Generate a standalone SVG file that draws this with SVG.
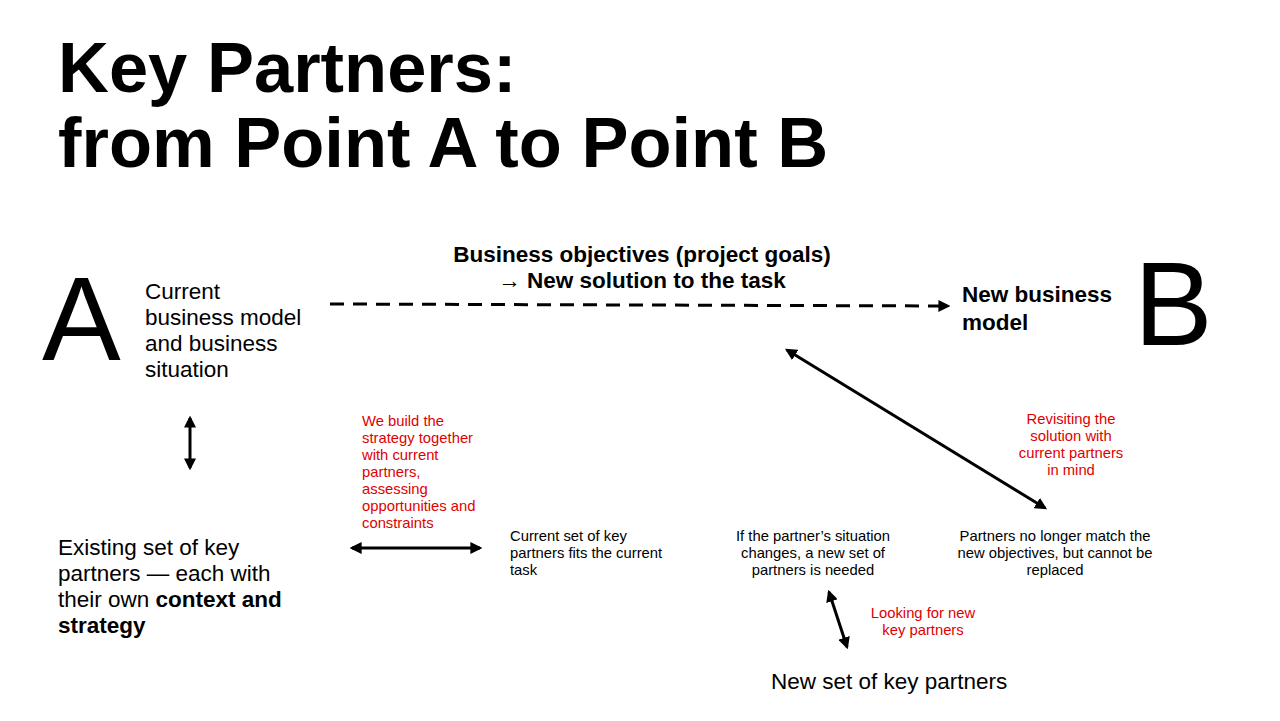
<svg xmlns="http://www.w3.org/2000/svg" width="1280" height="721" viewBox="0 0 1280 721">
<defs>
<marker id="ah" viewBox="0 0 10 10" refX="8" refY="5" markerWidth="4" markerHeight="4" orient="auto-start-reverse"><path d="M0,0 L10,5 L0,10 z" fill="#000"/></marker>
<style>
text{font-family:"Liberation Sans",Arial,sans-serif;fill:#000}
.t{font-size:70.5px;font-weight:bold}
.big{font-size:118px}
.m{font-size:22.5px}
.s{font-size:14.8px}
.r{font-size:14.8px;fill:#e00000}
.b{font-weight:bold}
.ln{stroke:#000;stroke-width:3;fill:none}
</style>
</defs>
<rect width="1280" height="721" fill="#fff"/>
<g id="title"><text class="t" x="58" y="92">Key Partners:</text><text class="t" x="58" y="167">from Point A to Point B</text></g>
<g id="nodeA"><text class="big" x="42" y="360">A</text>
<text class="m"><tspan x="145" y="299">Current</tspan><tspan x="145" y="325">business model</tspan><tspan x="145" y="351">and business</tspan><tspan x="145" y="377">situation</tspan></text></g>
<g id="goal"><text class="m b" text-anchor="middle"><tspan x="642" y="262">Business objectives (project goals)</tspan><tspan x="642" y="288">→ New solution to the task</tspan></text></g>
<g id="nodeB"><text class="m b"><tspan x="962" y="302">New business</tspan><tspan x="962" y="330">model</tspan></text><text class="big" x="1134" y="345">B</text></g>
<g id="existing"><text class="m"><tspan x="58" y="555">Existing set of key</tspan><tspan x="58" y="581">partners — each with</tspan><tspan x="58" y="607">their own <tspan class="b">context and</tspan></tspan><tspan x="58" y="633" class="b">strategy</tspan></text></g>
<g id="build"><text class="r"><tspan x="362" y="426">We build the</tspan><tspan x="362" y="443">strategy together</tspan><tspan x="362" y="460">with current</tspan><tspan x="362" y="477">partners,</tspan><tspan x="362" y="494">assessing</tspan><tspan x="362" y="511">opportunities and</tspan><tspan x="362" y="528">constraints</tspan></text></g>
<g id="fits"><text class="s"><tspan x="510" y="541">Current set of key</tspan><tspan x="510" y="558">partners fits the current</tspan><tspan x="510" y="575">task</tspan></text></g>
<g id="changes"><text class="s" text-anchor="middle"><tspan x="813" y="541">If the partner’s situation</tspan><tspan x="813" y="558">changes, a new set of</tspan><tspan x="813" y="575">partners is needed</tspan></text></g>
<g id="nomatch"><text class="s" text-anchor="middle"><tspan x="1055" y="541">Partners no longer match the</tspan><tspan x="1055" y="558">new objectives, but cannot be</tspan><tspan x="1055" y="575">replaced</tspan></text></g>
<g id="revisit"><text class="r" text-anchor="middle"><tspan x="1071" y="424">Revisiting the</tspan><tspan x="1071" y="441">solution with</tspan><tspan x="1071" y="458">current partners</tspan><tspan x="1071" y="475">in mind</tspan></text></g>
<g id="looking"><text class="r" text-anchor="middle"><tspan x="923" y="618">Looking for new</tspan><tspan x="923" y="635">key partners</tspan></text></g>
<g id="newset"><text class="m" x="771" y="689">New set of key partners</text></g>
<g id="connectors">
<line class="ln" x1="330" y1="304" x2="948" y2="306" stroke-dasharray="14,9" marker-end="url(#ah)"/>
<line class="ln" x1="190" y1="418" x2="190" y2="468" marker-start="url(#ah)" marker-end="url(#ah)"/>
<line class="ln" x1="352" y1="548" x2="480" y2="548" marker-start="url(#ah)" marker-end="url(#ah)"/>
<line class="ln" x1="787" y1="350" x2="1045" y2="508" marker-start="url(#ah)" marker-end="url(#ah)"/>
<line class="ln" x1="829" y1="592" x2="847" y2="647" marker-start="url(#ah)" marker-end="url(#ah)"/>
</g>
</svg>
